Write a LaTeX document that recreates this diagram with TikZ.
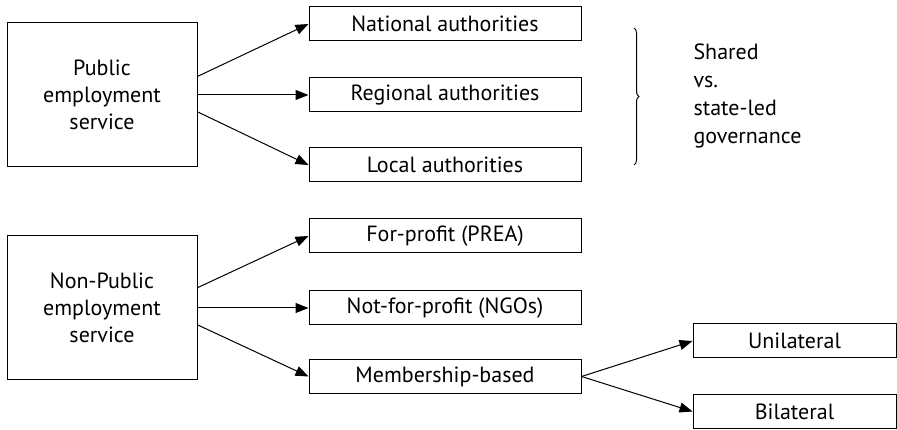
\documentclass[tikz,border=0pt]{standalone}
\usepackage{fontspec}
\setmainfont{PT Sans}
\usetikzlibrary{arrows.meta,decorations.pathreplacing}

\begin{document}
\begin{tikzpicture}[x=1pt,y=1pt,
    every node/.style={font=\fontsize{22}{27}\selectfont},
    bigbox/.style={draw,line width=1pt,minimum width=190,minimum height=144,align=center},
    smallbox/.style={draw,line width=1pt,minimum width=272,minimum height=34},
    endbox/.style={draw,line width=1pt,minimum width=203,minimum height=34},
    link/.style={line width=1pt,-{Triangle[length=13,width=10]}}]
      \useasboundingbox (0,0) rectangle (897,430);
      % left boxes
      \node[bigbox] (pub) at (102,335) {Public\\employment\\service};
      \node[bigbox] (npub) at (102,122) {Non-Public\\employment\\service};
      % public branch
      \node[smallbox] (nat) at (445,406) {National authorities};
      \node[smallbox] (reg) at (445,335) {Regional authorities};
      \node[smallbox] (loc) at (445,265) {Local authorities};
      % non-public branch
      \node[smallbox] (forp) at (445,194) {For-profit (PREA)};
      \node[smallbox] (notp) at (445,122) {Not-for-profit (NGOs)};
      \node[smallbox] (memb) at (445,53.5) {Membership-based};
      \node[endbox] (uni) at (794.5,89) {Unilateral};
      \node[endbox] (bil) at (794.5,18.5) {Bilateral};
      \foreach \a/\b in {pub.11/nat.west,pub.east/reg.west,pub.-10/loc.west,
                         npub.12/forp.west,npub.east/notp.west,npub.-10/memb.west,
                         memb.east/uni.west,memb.east/bil.west}
        {\draw[link] (\a) -- (\b);}
      % brace and its note
      \coordinate (bt) at (634,402);
      \coordinate (bb) at (634,265);
      \draw[line width=1pt,decorate,decoration={brace,amplitude=5}] (bt) -- (bb);
      \node[anchor=west,align=left,font=\fontsize{22}{28}\selectfont] (gov) at (690,334)
        {Shared\\vs.\\state-led\\governance};
    \end{tikzpicture}
\end{document}
